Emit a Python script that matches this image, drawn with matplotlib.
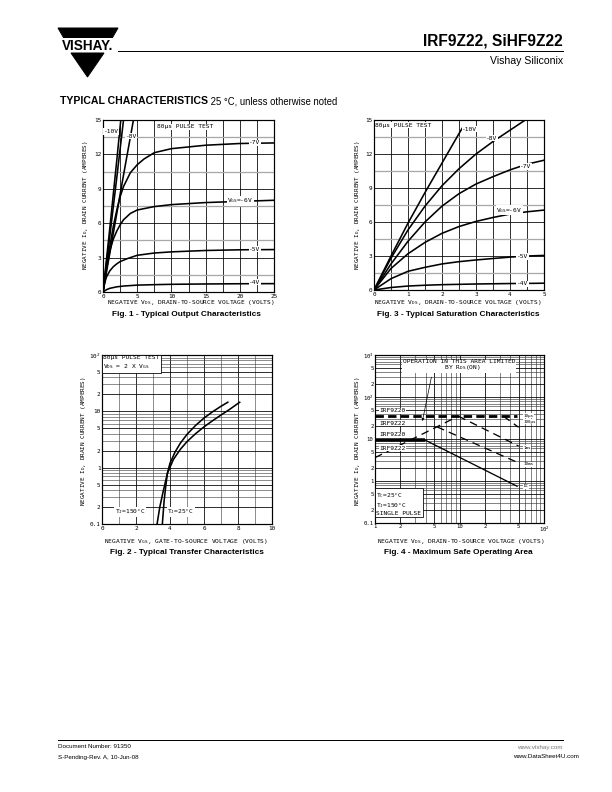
import matplotlib
matplotlib.use("Agg")
import matplotlib.pyplot as plt
from matplotlib.patches import Polygon
from matplotlib.ticker import FixedLocator, NullFormatter

W, H = 612, 792
MONO = "DejaVu Sans Mono"
SANS = "Liberation Sans"

# ---- Fig. 1 - typical output characteristics (VDS 0..25 V) ----
out_m4_x = [0, 0.5, 1, 2, 3, 5, 7.5, 10, 15, 20, 25]
out_m4_y = [0, 0.2, 0.32, 0.45, 0.52, 0.6, 0.64, 0.67, 0.7, 0.72, 0.73]
out_m5_x = [0, 0.25, 0.5, 1, 1.5, 2, 2.5, 3.5, 5, 7.5, 10, 15, 20, 25]
out_m5_y = [0, 0.8, 1.3, 1.85, 2.2, 2.45, 2.65, 2.9, 3.2, 3.4, 3.5, 3.62, 3.68, 3.7]
out_m6_x = [0, 0.25, 0.5, 1, 1.5, 2, 2.5, 3, 4, 5, 7.5, 10, 15, 20, 25]
out_m6_y = [0, 1.0, 2.0, 3.6, 4.6, 5.3, 5.85, 6.3, 6.85, 7.15, 7.45, 7.62, 7.8, 7.9, 8.0]
out_m7_x = [0, 0.5, 1, 1.5, 2, 2.5, 3, 4, 5, 6, 7.5, 10, 15, 20, 25]
out_m7_y = [0, 2.1, 4.0, 5.7, 7.1, 8.3, 9.2, 10.4, 11.1, 11.6, 12.15, 12.5, 12.8, 12.95, 13.0]
out_m8_x = [0, 1, 2, 3, 4.45]
out_m8_y = [0, 3.4, 6.8, 10.2, 15]
out_m9_x = [0, 1, 2, 3.0]
out_m9_y = [0, 4.9, 9.9, 15]
out_m10_x = [0, 1, 2, 2.6]
out_m10_y = [0, 5.6, 11.4, 15]

# ---- Fig. 3 - typical saturation characteristics (VDS 0..5 V) ----
sat_x = [0, 0.5, 1, 1.5, 2, 2.5, 3, 3.5, 4, 4.5, 5]
sat_m4_y = [0, 0.22, 0.35, 0.42, 0.47, 0.5, 0.53, 0.55, 0.57, 0.58, 0.6]
sat_m5_y = [0, 1.0, 1.65, 2.0, 2.3, 2.5, 2.65, 2.78, 2.9, 3.0, 3.05]
sat_m6_y = [0, 1.9, 3.2, 4.2, 5.0, 5.6, 6.05, 6.4, 6.7, 6.9, 7.05]
sat_m7_y = [0, 2.3, 4.3, 6.0, 7.4, 8.5, 9.35, 10.0, 10.6, 11.1, 11.45]
sat_m8_x = [0, 0.5, 1, 1.5, 2, 2.5, 3, 3.5, 4, 4.45]
sat_m8_y = [0, 2.8, 5.3, 7.4, 9.2, 10.7, 12.0, 13.1, 14.1, 15]
sat_m10_x = [0, 0.5, 1, 1.5, 2, 2.5, 2.6]
sat_m10_y = [0, 3.0, 5.9, 8.6, 11.2, 13.8, 14.3]

# ---- Fig. 2 - typical transfer characteristics ----
tr_150_x = [3.24, 3.4, 3.6, 3.85, 4.2, 4.6, 5.0, 5.5, 6.0, 6.5, 7.0, 7.5, 8.1]
tr_150_y = [0.1, 0.2, 0.38, 0.8, 1.4, 2.1, 2.9, 4.0, 5.3, 6.8, 8.6, 10.8, 14.5]
tr_25_x = [3.55, 3.65, 3.75, 3.85, 4.0, 4.3, 4.6, 5.0, 5.5, 6.0, 6.5, 7.0, 7.4]
tr_25_y = [0.1, 0.25, 0.47, 0.8, 1.2, 1.9, 2.7, 3.9, 5.6, 7.6, 9.8, 12.3, 14.5]

# ---- Fig. 4 - maximum safe operating area ----
soa_rds_x = [1, 9.7]
soa_rds_y = [3.6, 35]
soa_pulse_x = [1, 48]
soa_pulse_y = [35, 35]
soa_100us_x = [33, 50]
soa_100us_y = [35, 19]
soa_1ms_x = [9.7, 50]
soa_1ms_y = [35, 6.8]
soa_10ms_x = [5.4, 50]
soa_10ms_y = [19.5, 2.7]
soa_flat_x = [1, 3.93]
soa_flat_y = [9.4, 9.4]
soa_dc_x = [3.93, 48]
soa_dc_y = [9.4, 0.75]

log_ticks_2 = [0.1, 0.2, 0.5, 1, 2, 5, 10, 20, 50, 100]
log_labels_2 = ["0.1", "2", "5", "1", "2", "5", "10", "2", "5", "10$^2$"]
log_ticks_4y = [0.1, 0.2, 0.5, 1, 2, 5, 10, 20, 50, 100, 200, 500, 1000]
log_labels_4y = ["0.1", "2", "5", "1", "2", "5", "10", "2", "5", "10$^2$", "2", "5", "10$^3$"]
log_ticks_4x = [1, 2, 5, 10, 20, 50, 100]
log_labels_4x = ["1", "2", "5", "10", "2", "5", "10$^2$"]

plt.rcParams["font.family"] = [MONO]
plt.rcParams["mathtext.default"] = "regular"

fig = plt.figure(figsize=(W / 72, H / 72), dpi=72)


def px_axes(left, top, right, bottom):
    return fig.add_axes([left / W, 1 - bottom / H, (right - left) / W, (bottom - top) / H])


def style(ax, size=6):
    for s in ax.spines.values():
        s.set_linewidth(1.2)
    ax.tick_params(which="both", length=0, pad=1.5, labelsize=size)
    ax.set_axisbelow(True)


FS = 6.3
BOX = dict(facecolor="white", edgecolor="none", pad=0.6)
FRAME = dict(facecolor="white", edgecolor="black", lw=0.8, pad=1.5)
CURVE = dict(color="black", lw=1.6)

# Fig. 1
ax1 = px_axes(103, 120, 274, 292)
ax1.set_xlim(0, 25)
ax1.set_ylim(0, 15)
ax1.set_xticks([0, 5, 10, 15, 20, 25])
ax1.set_xticks([2.5, 7.5, 12.5, 17.5, 22.5], minor=True)
ax1.set_yticks([0, 3, 6, 9, 12, 15])
ax1.set_yticks([1.5, 4.5, 7.5, 10.5, 13.5], minor=True)
ax1.grid(which="major", color="black", lw=0.8)
ax1.grid(which="minor", axis="x", color="black", lw=0.8)
ax1.grid(which="minor", axis="y", color="#a8a8a8", lw=1.3)
style(ax1)
for xs, ys in [(out_m4_x, out_m4_y), (out_m5_x, out_m5_y), (out_m6_x, out_m6_y),
               (out_m7_x, out_m7_y), (out_m8_x, out_m8_y), (out_m9_x, out_m9_y),
               (out_m10_x, out_m10_y)]:
    ax1.plot(xs, ys, **CURVE)
ax1.text(7.9, 14.4, "80µs PULSE TEST", fontsize=FS, va="center", bbox=BOX)
ax1.text(0.1, 14.0, "-10V", fontsize=FS, va="center", bbox=BOX)
ax1.text(3.3, 13.6, "-8V", fontsize=FS, va="center", bbox=BOX)
ax1.text(21.4, 13.0, "-7V", fontsize=FS, va="center", bbox=BOX)
ax1.text(18.2, 7.95, "V$_{GS}$=-6V", fontsize=FS, va="center", bbox=BOX)
ax1.text(21.4, 3.72, "-5V", fontsize=FS, va="center", bbox=BOX)
ax1.text(21.4, 0.85, "-4V", fontsize=FS, va="center", bbox=BOX)

# Fig. 3
ax3 = px_axes(374, 120, 544, 290)
ax3.set_xlim(0, 5)
ax3.set_ylim(0, 15)
ax3.set_xticks([0, 1, 2, 3, 4, 5])
ax3.set_xticks([0.5, 1.5, 2.5, 3.5, 4.5], minor=True)
ax3.set_yticks([0, 3, 6, 9, 12, 15])
ax3.set_yticks([1.5, 4.5, 7.5, 10.5, 13.5], minor=True)
ax3.grid(which="major", color="black", lw=0.8)
ax3.grid(which="minor", axis="x", color="black", lw=0.8)
ax3.grid(which="minor", axis="y", color="#a8a8a8", lw=1.3)
style(ax3)
for ys in [sat_m4_y, sat_m5_y, sat_m6_y, sat_m7_y]:
    ax3.plot(sat_x, ys, **CURVE)
ax3.plot(sat_m8_x, sat_m8_y, **CURVE)
ax3.plot(sat_m10_x, sat_m10_y, **CURVE)
ax3.text(0.04, 14.55, "80µs PULSE TEST", fontsize=FS, va="center", bbox=BOX)
ax3.text(2.6, 14.2, "-10V", fontsize=FS, va="center", bbox=BOX)
ax3.text(3.3, 13.4, "-8V", fontsize=FS, va="center", bbox=BOX)
ax3.text(4.3, 10.9, "-7V", fontsize=FS, va="center", bbox=BOX)
ax3.text(3.6, 7.05, "V$_{GS}$=-6V", fontsize=FS, va="center", bbox=BOX)
ax3.text(4.2, 2.95, "-5V", fontsize=FS, va="center", bbox=BOX)
ax3.text(4.2, 0.55, "-4V", fontsize=FS, va="center", bbox=BOX)

# Fig. 2
ax2 = px_axes(102, 355, 272, 524)
ax2.set_yscale("log")
ax2.set_xlim(0, 10)
ax2.set_ylim(0.1, 100)
ax2.set_xticks([0, 2, 4, 6, 8, 10])
ax2.set_xticks([1, 3, 5, 7, 9], minor=True)
ax2.yaxis.set_major_locator(FixedLocator(log_ticks_2))
ax2.set_yticklabels(log_labels_2)
ax2.yaxis.set_minor_formatter(NullFormatter())
ax2.grid(which="major", color="black", lw=0.8)
ax2.grid(which="minor", color="#444444", lw=0.6)
style(ax2)
ax2.plot(tr_150_x, tr_150_y, **CURVE)
ax2.plot(tr_25_x, tr_25_y, **CURVE)
ax2.text(0.08, 72, "80µs PULSE TEST\nV$_{DS}$ = 2 X V$_{GS}$", fontsize=FS, va="center",
         linespacing=1.5, bbox=FRAME)
ax2.text(0.75, 0.165, "T$_J$=150°C", fontsize=FS, va="center", bbox=BOX)
ax2.text(3.85, 0.165, "T$_J$=25°C", fontsize=FS, va="center", bbox=BOX)

# Fig. 4
ax4 = px_axes(375, 355, 544, 523)
ax4.set_xscale("log")
ax4.set_yscale("log")
ax4.set_xlim(1, 100)
ax4.set_ylim(0.1, 1000)
ax4.xaxis.set_major_locator(FixedLocator(log_ticks_4x))
ax4.set_xticklabels(log_labels_4x)
ax4.xaxis.set_minor_formatter(NullFormatter())
ax4.yaxis.set_major_locator(FixedLocator(log_ticks_4y))
ax4.set_yticklabels(log_labels_4y)
ax4.yaxis.set_minor_formatter(NullFormatter())
ax4.grid(which="major", color="black", lw=0.8)
ax4.grid(which="minor", color="#333333", lw=0.6)
style(ax4, size=5.6)
ax4.plot(soa_pulse_x, soa_pulse_y, color="black", lw=2.8, dashes=(3, 1.5))
ax4.plot(soa_rds_x, soa_rds_y, color="black", lw=1.3, dashes=(6, 4))
ax4.plot(soa_100us_x, soa_100us_y, color="black", lw=1.3, dashes=(6, 4))
ax4.plot(soa_1ms_x, soa_1ms_y, color="black", lw=1.3, dashes=(6, 4))
ax4.plot(soa_10ms_x, soa_10ms_y, color="black", lw=1.3, dashes=(6, 4))
ax4.plot(soa_flat_x, soa_flat_y, color="black", lw=3.5, solid_capstyle="butt")
ax4.plot(soa_dc_x, soa_dc_y, color="black", lw=1.3)
ax4.annotate("", xy=(3.6, 24), xytext=(4.7, 330),
             arrowprops=dict(arrowstyle="-|>", color="black", lw=0.7, mutation_scale=5))
ax4.text(9.8, 560, "OPERATION IN THIS AREA LIMITED\n  BY R$_{DS}$(ON)", fontsize=FS,
         ha="center", va="center", linespacing=0.95, bbox=BOX)
for yv, lab in [(47, "IRF9Z20"), (24, "IRF9Z22"), (12.5, "IRF9Z20"), (6, "IRF9Z22")]:
    ax4.text(1.12, yv, lab, fontsize=FS, va="center", bbox=BOX)
for yv, lab in [(36, "10µs"), (26, "100µs"), (6.2, "1ms"), (2.5, "10ms"), (0.75, "DC")]:
    ax4.text(57, yv, lab, fontsize=4.3, va="center", bbox=BOX)
ax4.text(1.04, 0.29, "T$_C$=25°C\nT$_J$=150°C\nSINGLE PULSE", fontsize=FS, va="center",
         linespacing=1.2, bbox=FRAME)

# page furniture in pixel coordinates
ov = fig.add_axes([0, 0, 1, 1])
ov.set_xlim(0, W)
ov.set_ylim(H, 0)
ov.axis("off")
ov.patch.set_alpha(0)

ov.add_patch(Polygon([(58, 28), (118, 28), (112.5, 37.5), (63.5, 37.5)], closed=True, color="black"))
ov.add_patch(Polygon([(71, 53), (104, 53), (87.5, 77)], closed=True, color="black"))
ov.text(88, 45.5, "VISHAY.", family=SANS, weight="bold", fontsize=13.5, ha="center", va="center")
ov.text(563, 41, "IRF9Z22, SiHF9Z22", family=SANS, weight="bold", fontsize=15.5, ha="right", va="center")
ov.plot([118, 563], [51, 51], color="black", lw=1)
ov.text(563, 61.5, "Vishay Siliconix", family=SANS, fontsize=10.5, ha="right", va="center")
head = ov.text(60, 101, "TYPICAL CHARACTERISTICS", family=SANS, weight="bold", fontsize=10.5, va="center")
ov.annotate(" 25 °C, unless otherwise noted", xy=(1, 0.5), xycoords=head, family=SANS,
            fontsize=9.5, va="center")

XL = dict(fontsize=6.2, ha="center", va="center")
ov.text(191, 302.5, "NEGATIVE V$_{DS}$, DRAIN-TO-SOURCE VOLTAGE (VOLTS)", **XL)
ov.text(458, 302.5, "NEGATIVE V$_{DS}$, DRAIN-TO-SOURCE VOLTAGE (VOLTS)", **XL)
ov.text(186, 541, "NEGATIVE V$_{GS}$, GATE-TO-SOURCE VOLTAGE (VOLTS)", **XL)
ov.text(461, 541.5, "NEGATIVE V$_{DS}$, DRAIN-TO-SOURCE VOLTAGE (VOLTS)", **XL)
for xv, yv in [(85, 205), (358, 205), (84, 441), (357, 441)]:
    ov.text(xv, yv, "NEGATIVE I$_D$, DRAIN CURRENT (AMPERES)", fontsize=6.0, rotation=90,
            ha="center", va="center")

CAP = dict(family=SANS, weight="bold", fontsize=8.2, ha="center", va="center")
ov.text(186, 314.5, "Fig. 1 - Typical Output Characteristics", **CAP)
ov.text(458, 314.5, "Fig. 3 - Typical Saturation Characteristics", **CAP)
ov.text(187, 552, "Fig. 2 - Typical Transfer Characteristics", **CAP)
ov.text(458, 552, "Fig. 4 - Maximum Safe Operating Area", **CAP)

ov.plot([58, 563], [740, 740], color="black", lw=1)
ov.text(58, 747, "Document Number: 91350", family=SANS, fontsize=6.2, va="center")
ov.text(58, 757, "S-Pending-Rev. A, 10-Jun-08", family=SANS, fontsize=6.2, va="center")
ov.text(563, 747, "www.vishay.com", family=SANS, fontsize=6.2, ha="right", va="center", color="#777777")
ov.text(579, 757, "www.DataSheet4U.com", family=SANS, fontsize=6.2, ha="right", va="center")

fig.savefig("out.png", dpi=72, facecolor="white")
